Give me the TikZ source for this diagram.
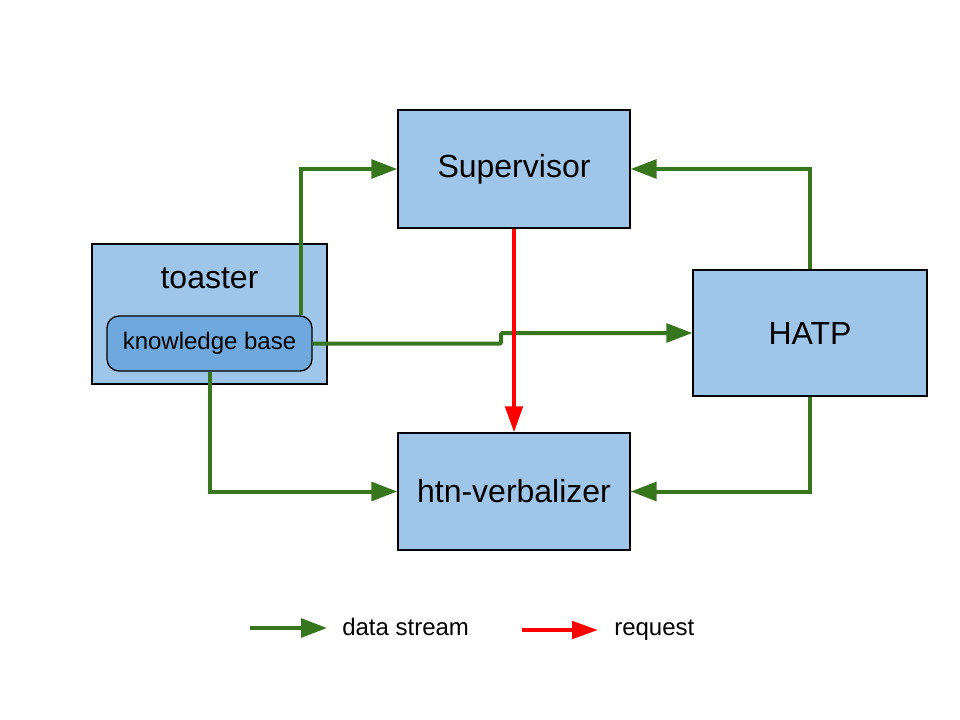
\documentclass[tikz,border=0pt]{standalone}
\usepackage{fontspec}
\setmainfont{Liberation Sans}
\usepackage{xcolor}
\usepackage{tikz}
\usetikzlibrary{arrows.meta,positioning}
\definecolor{boxblue}{HTML}{9FC5E8}
\definecolor{kbblue}{HTML}{6FA8DC}
\definecolor{streamgreen}{HTML}{38761D}

\begin{document}
\begin{tikzpicture}
    [   x = 0.75pt
    ,   y = -0.75pt
    ,   module/.style=
        {   draw
        ,   fill = boxblue
        ,   line width = 1pt
        ,   inner sep = 0pt
        ,   node font = \fontsize{24}{28}\selectfont
        }
    ,   kbbox/.style=
        {   draw
        ,   fill = kbblue
        ,   line width = 1pt
        ,   rounded corners = 9pt
        ,   minimum width = 153.75pt
        ,   minimum height = 41.25pt
        ,   node font = \fontsize{18}{21}\selectfont
        }
    ,   legendtxt/.style=
        {   anchor = base west
        ,   inner sep = 0pt
        ,   node font = \fontsize{18}{21}\selectfont
        }
    ,   data/.style=
        {   draw = streamgreen
        ,   line width = 3pt
        ,   -{Triangle[length=19.5pt,width=14pt]}
        }
    ,   request/.style=
        {   draw = red
        ,   line width = 3pt
        ,   -{Triangle[length=19.5pt,width=13pt]}
        }
    ]
    \useasboundingbox (0,0) rectangle (960,720);
    % modules
    \node[module, minimum width=174pt, minimum height=88.5pt] (sup) at (514,169) {Supervisor};
    \node[module, minimum width=176.25pt, minimum height=105pt] (toaster) at (209.5,314) {};
    \node[inner sep=0pt, node font=\fontsize{24}{28}\selectfont] (toastertxt) at (209.5,278) {toaster};
    \node[kbbox] (kb) at (209.5,343.5) {knowledge base};
    \node[module, minimum width=175.5pt, minimum height=94.5pt] (hatp) at (810,333) {HATP};
    \node[module, minimum width=174pt, minimum height=87.75pt] (htn) at (514,491.5) {htn-verbalizer};
    % connectors
    \coordinate (jog) at (501,343.5);
    \draw[data] ([xshift=-9pt]kb.north east) |- (sup.west);
    \draw[data, rounded corners=1pt] (kb.east) -- (jog) |- (hatp.west);
    \draw[data] (kb.south) |- (htn.west);
    \draw[data] (hatp.north) |- (sup.east);
    \draw[data] (hatp.south) |- (htn.east);
    \draw[request] (sup.south) -- (htn.north);
    % legend
    \coordinate (ds0) at (250,628);
    \coordinate (ds1) at (327,628);
    \coordinate (rq0) at (522,630);
    \coordinate (rq1) at (598,630);
    \draw[data] (ds0) -- (ds1);
    \node[legendtxt] (dstxt) at (342,635) {data stream};
    \draw[request] (rq0) -- (rq1);
    \node[legendtxt] (rqtxt) at (614,635) {request};
\end{tikzpicture}
\end{document}
